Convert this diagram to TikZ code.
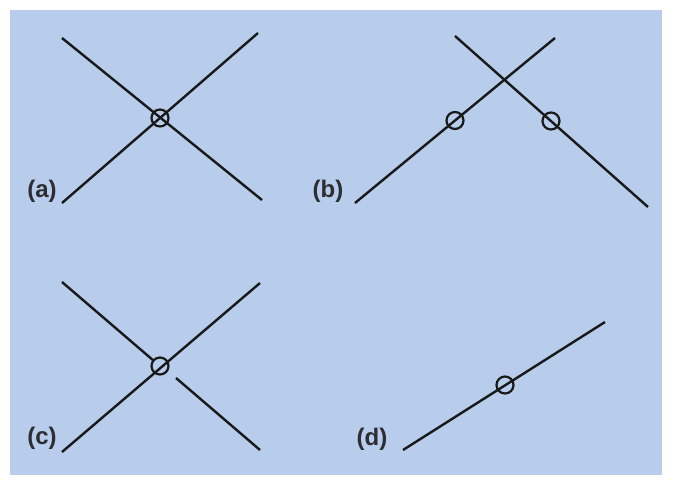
\documentclass[tikz,border=0pt]{standalone}
\usepackage{fontspec}
\setmainfont{Liberation Sans}
\definecolor{bgblue}{RGB}{183,205,235}
\definecolor{labelgray}{RGB}{45,45,50}
\begin{document}
\begin{tikzpicture}[x=1pt,y=-1pt,
  wire/.style={line width=2.4pt,black!90},
  junc/.style={circle,draw=black!90,line width=2.2pt,minimum size=17pt,inner sep=0pt},
  lab/.style={font=\bfseries\fontsize{24}{27}\selectfont,text=labelgray,inner sep=0pt}]
\useasboundingbox (0,0) rectangle (674,483);
\fill[white] (0,0) rectangle (674,483);
\fill[bgblue] (10,10) rectangle (662,475);
% (a)
\coordinate (a1) at (62,38); \coordinate (a2) at (262,200);
\coordinate (a3) at (62,203); \coordinate (a4) at (258,33);
\draw[wire] (a1) -- (a2);
\draw[wire] (a3) -- (a4);
\node[junc] (ja) at (160,118) {};
\node[lab] (la) at (42,191) {(a)};
% (b)
\coordinate (b1) at (355,203); \coordinate (b2) at (555,38);
\coordinate (b3) at (455,36); \coordinate (b4) at (648,207);
\draw[wire] (b1) -- (b2);
\draw[wire] (b3) -- (b4);
\node[junc] (jb1) at (455,120.5) {};
\node[junc] (jb2) at (551,121) {};
\node[lab] (lb) at (328,191) {(b)};
% (c)
\coordinate (c1) at (62,282); \coordinate (c2) at (154,361);
\coordinate (c3) at (176,378); \coordinate (c4) at (260,450);
\coordinate (c5) at (62,452); \coordinate (c6) at (260,283);
\draw[wire] (c1) -- (c2);
\draw[wire] (c3) -- (c4);
\draw[wire] (c5) -- (c6);
\node[junc] (jc) at (160,366) {};
\node[lab] (lc) at (42,438) {(c)};
% (d)
\coordinate (d1) at (403,450); \coordinate (d2) at (605,322);
\draw[wire] (d1) -- (d2);
\node[junc] (jd) at (505,385) {};
\node[lab] (ld) at (372,439) {(d)};
\end{tikzpicture}
\end{document}
